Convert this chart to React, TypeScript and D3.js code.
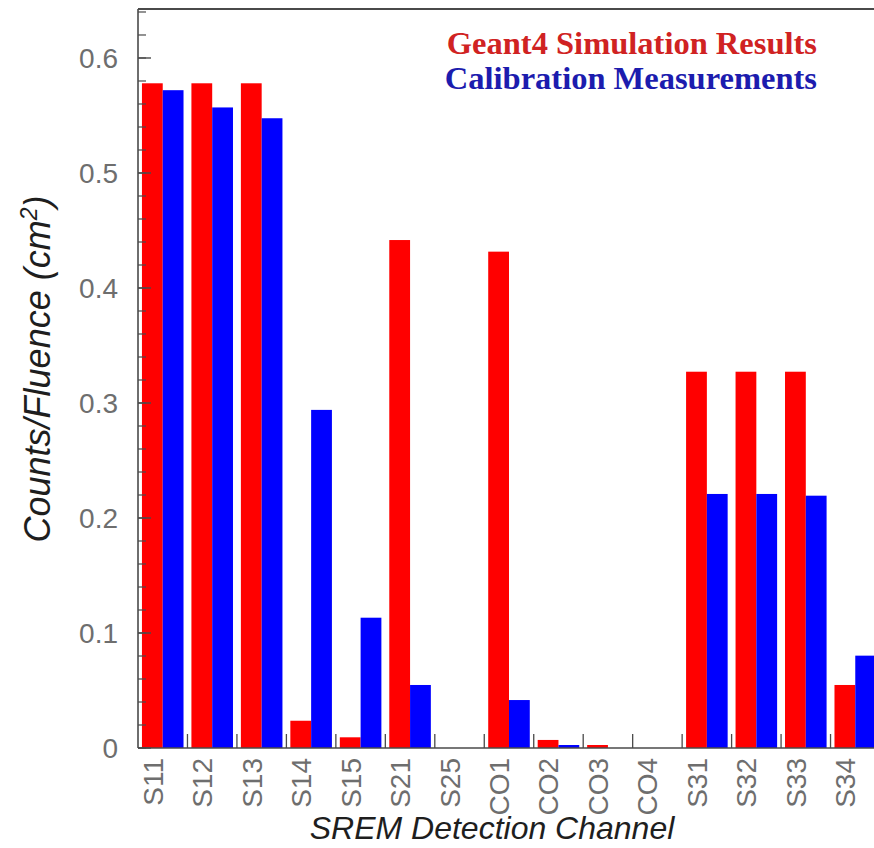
import React from "react";
import * as d3 from "d3";

// SREM channels and the two response series (counts per unit fluence, cm^2)
const channels = ["S11", "S12", "S13", "S14", "S15", "S21", "S25", "CO1", "CO2", "CO3", "CO4", "S31", "S32", "S33", "S34"];
const simulation = [0.578, 0.578, 0.578, 0.0237, 0.0093, 0.4417, 0, 0.4316, 0.007, 0.0026, 0, 0.3272, 0.3272, 0.3272, 0.0548];
const calibration = [0.572, 0.557, 0.5476, 0.294, 0.1133, 0.0548, 0, 0.0417, 0.0026, 0, 0, 0.2209, 0.2209, 0.2194, 0.0803];
const seriesNames = ["Geant4 Simulation Results", "Calibration Measurements"];
const seriesColors = ["#ff0000", "#0000ff"];
const legendColors = ["#d02222", "#1c1cae"];
const majorTicks = [0, 0.1, 0.2, 0.3, 0.4, 0.5, 0.6];
const yMax = 0.6426;

const W = 874;
const H = 848;
const plot = { left: 138, right: 880, top: 9, bottom: 748 };

export default function App() {
  const x = d3.scaleBand<string>().domain(channels).range([plot.left, plot.right]).paddingInner(0).paddingOuter(0);
  const inner = d3.scaleBand<number>().domain([0, 1]).range([0, x.bandwidth()]).paddingInner(0).paddingOuter(0.19);
  const y = d3.scaleLinear().domain([0, yMax]).range([plot.bottom, plot.top]);
  const minorTicks = d3.range(0, 0.645, 0.02);
  const series = [simulation, calibration];
  const axisColor = "#4a4a4a";
  const tickFont = "'Liberation Sans', Arial, Helvetica, sans-serif";

  return (
    <svg width={W} height={H} style={{ position: "absolute", left: 0, top: 0, display: "block", background: "#fff" }}>
      <defs>
        <clipPath id="frame">
          <rect x={0} y={0} width={W} height={H} />
        </clipPath>
      </defs>
      <g clipPath="url(#frame)">
        {/* bars */}
        {channels.map((c, i) => (
          <g key={c}>
            {series.map((vals, s) =>
              vals[i] > 0 ? (
                <rect
                  key={s}
                  x={(x(c) as number) + (inner(s) as number)}
                  y={y(vals[i])}
                  width={inner.bandwidth()}
                  height={y(0) - y(vals[i])}
                  fill={seriesColors[s]}
                />
              ) : null
            )}
          </g>
        ))}

        {/* frame lines */}
        <line x1={plot.left} x2={W + 10} y1={plot.top} y2={plot.top} stroke={axisColor} strokeWidth={2} />
        <line x1={plot.left} x2={plot.left} y1={plot.top} y2={plot.bottom} stroke={axisColor} strokeWidth={1.6} />
        <line x1={plot.left} x2={W + 10} y1={plot.bottom} y2={plot.bottom} stroke={axisColor} strokeWidth={1.6} />

        {/* y ticks, inward */}
        {minorTicks.map((t) => (
          <line key={"m" + t} x1={plot.left} x2={plot.left + 8} y1={y(t)} y2={y(t)} stroke={axisColor} strokeWidth={1.2} />
        ))}
        {majorTicks.map((t) => (
          <line key={"M" + t} x1={plot.left} x2={plot.left + 13} y1={y(t)} y2={y(t)} stroke={axisColor} strokeWidth={1.4} />
        ))}
        {majorTicks.map((t) => (
          <text
            key={"l" + t}
            x={118}
            y={y(t)}
            dy="0.36em"
            textAnchor="end"
            fontFamily={tickFont}
            fontSize={28}
            fill="#6e6e6e"
          >
            {t === 0 ? "0" : d3.format(".1f")(t)}
          </text>
        ))}

        {/* x ticks at channel boundaries */}
        {channels.slice(1).map((c) => (
          <line key={"xt" + c} x1={x(c) as number} x2={x(c) as number} y1={plot.bottom} y2={plot.bottom - 14} stroke={axisColor} strokeWidth={1.3} />
        ))}

        {/* channel labels */}
        {channels.map((c) => {
          const cx = (x(c) as number) + x.bandwidth() / 2;
          return (
            <text
              key={"xl" + c}
              transform={`translate(${cx},758) rotate(-90)`}
              textAnchor="end"
              fontFamily={tickFont}
              fontSize={28}
              fill="#6e6e6e"
            >
              {c}
            </text>
          );
        })}

        {/* axis titles */}
        <text
          x={492}
          y={839}
          textAnchor="middle"
          fontFamily={tickFont}
          fontStyle="italic"
          fontSize={32}
          fill="#1e1e1e"
        >
          SREM Detection Channel
        </text>
        <text
          transform="translate(50,369) rotate(-90)"
          textAnchor="middle"
          fontFamily={tickFont}
          fontStyle="italic"
          fontSize={36}
          fill="#1e1e1e"
        >
          Counts/Fluence (cm
          <tspan baselineShift="super" fontSize={23}>2</tspan>
          )
        </text>

        {/* legend */}
        {seriesNames.map((n, i) => (
          <text
            key={n}
            x={817}
            y={54 + i * 35}
            textAnchor="end"
            fontFamily="'Liberation Serif', 'Times New Roman', serif"
            fontWeight="bold"
            fontSize={32.5}
            fill={legendColors[i]}
          >
            {n}
          </text>
        ))}
      </g>
    </svg>
  );
}
